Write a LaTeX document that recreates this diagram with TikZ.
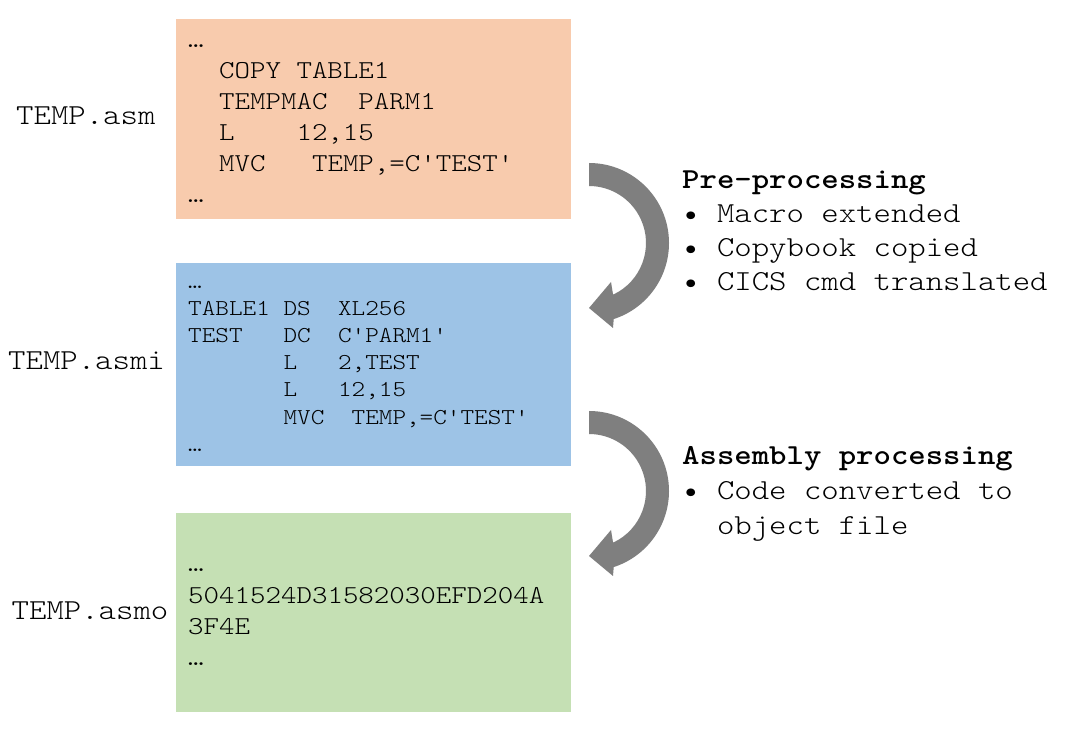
\documentclass[tikz,border=0pt]{standalone}
\usepackage{fontspec}
\setmonofont{lmmonolt10-regular.otf}[BoldFont=lmmonolt10-bold.otf, FakeStretch=1.1429]
\definecolor{asmfill}{HTML}{F8CBAD}
\definecolor{asmifill}{HTML}{9DC3E6}
\definecolor{asmofill}{HTML}{C5E0B4}
\definecolor{arrowgray}{HTML}{7F7F7F}
\begin{document}
\begin{tikzpicture}[x=1pt,y=1pt,
  codebox/.style={rectangle, inner sep=0pt, draw=none, anchor=north west, minimum width=395pt},
  codetext/.style={inner sep=0pt, anchor=base west},
  filelabel/.style={inner sep=0pt, anchor=base west, font=\ttfamily\fontsize{29}{34}\selectfont},
  turnarrow/.pic={\fill[arrowgray] (0,80) arc[start angle=90,end angle=-72,radius=80]
      -- (24,-85) -- (0,-65) -- (22,-39) -- (24.09,-51.66)
      arc[start angle=-65,end angle=90,radius=57] -- cycle;}
]
\useasboundingbox (0,0) rectangle (1069,729);
\fill[white] (0,0) rectangle (1069,729);

% boxes
\node[codebox, fill=asmfill, minimum height=200pt] (asmbox) at (176,710) {};
\node[codebox, fill=asmifill, minimum height=203pt] (asmibox) at (176,466) {};
\node[codebox, fill=asmofill, minimum height=199pt] (asmobox) at (176,216) {};

% code
\node[codetext, font=\ttfamily\fontsize{25.8}{31}\selectfont] (asmcode) at (188,681.2)
  {\begin{tabular}[t]{@{}l@{}}…\\
   \ \ COPY\ TABLE1\\
   \ \ TEMPMAC\ \ PARM1\\
   \ \ L\ \ \ \ 12,15\\
   \ \ MVC\ \ \ TEMP,=C'TEST'\\
   …\end{tabular}};
\node[codetext, font=\ttfamily\fontsize{22.7}{27.1}\selectfont] (asmicode) at (188,440.4)
  {\begin{tabular}[t]{@{}l@{}}…\\
   TABLE1\ DS\ \ XL256\\
   TEST\ \ \ DC\ \ C'PARM1'\\
   \ \ \ \ \ \ \ L\ \ \ 2,TEST\\
   \ \ \ \ \ \ \ L\ \ \ 12,15\\
   \ \ \ \ \ \ \ MVC\ \ TEMP,=C'TEST'\\
   …\end{tabular}};
\node[codetext, font=\ttfamily\fontsize{25.8}{31.2}\selectfont] (asmocode) at (188,157)
  {\begin{tabular}[t]{@{}l@{}}…\\
   5041524D31582030EFD204A\\
   3F4E\\
   …\end{tabular}};

% file labels
\node[filelabel] (asmlabel) at (16,604) {TEMP.asm};
\node[filelabel] (asmilabel) at (8,359.7) {TEMP.asmi};
\node[filelabel] (asmolabel) at (11.5,109.7) {TEMP.asmo};

% arrows
\pic at (589,486) {turnarrow};
\pic at (589,238) {turnarrow};

% step descriptions
\node[codetext, font=\ttfamily\fontsize{29}{33.8}\selectfont] (preproc) at (682,540)
  {\begin{tabular}[t]{@{}l@{}}\textbf{Pre-processing}\\
   •\ Macro\ extended\\
   •\ Copybook\ copied\\
   •\ CICS\ cmd\ translated\end{tabular}};
\node[codetext, font=\ttfamily\fontsize{29}{35}\selectfont] (asmproc) at (682,264)
  {\begin{tabular}[t]{@{}l@{}}\textbf{Assembly\ processing}\\
   •\ Code\ converted\ to\\
   \ \ object\ file\end{tabular}};
\end{tikzpicture}
\end{document}
